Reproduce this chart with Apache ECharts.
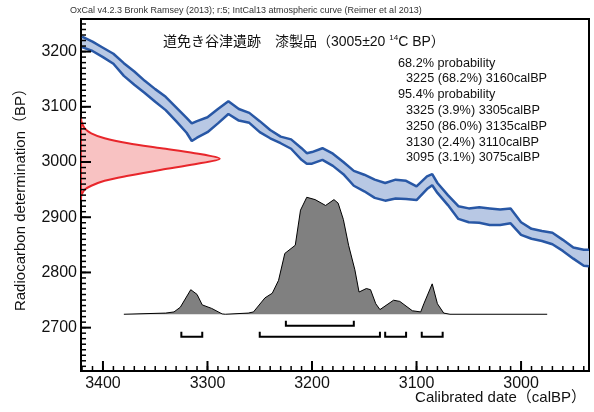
<!DOCTYPE html>
<html><head><meta charset="utf-8">
<script src="https://cdn.jsdelivr.net/npm/echarts@6.0.0/dist/echarts.min.js"></script>
<style>html,body{margin:0;padding:0;background:#fff}#c{width:594px;height:412px}</style>
</head><body><div id="c"></div>
<script>
// Calibration curve (IntCal13) band edges
const calBP = [3420,3410,3400,3390,3380,3370,3360,3350,3340,3330,3320,3315,3310,3300,3290,3280,3270,3260,3250,3240,3230,3220,3210,3205,3200,3190,3180,3170,3160,3150,3140,3130,3120,3110,3100,3090,3085,3080,3070,3060,3050,3040,3030,3020,3010,3000,2990,2980,2970,2960,2950,2940,2935];
const curveUpper = [3227,3218,3207,3196,3179,3164,3147,3132,3118,3099,3080,3070,3074,3081,3096,3110,3096,3089,3074,3058,3046,3041,3025,3016,3018,3025,3015,3000,2984,2977,2968,2962,2968,2966,2956,2974,2978,2962,2940,2920,2916,2918,2916,2914,2916,2891,2879,2875,2872,2859,2845,2841,2841];
const curveLower = [3208,3201,3190,3178,3156,3140,3125,3109,3094,3074,3053,3038,3044,3054,3070,3087,3075,3071,3054,3043,3034,3024,3004,2997,2997,3004,2993,2978,2957,2947,2935,2930,2934,2933,2931,2951,2958,2944,2922,2897,2891,2890,2886,2886,2889,2868,2861,2857,2851,2839,2825,2812,2811];
// Measured radiocarbon date 3005±20 BP (relative density)
const sampleBP = [3080,3073,3061,3052,3043,3034,3025,3016,3006,2996,2986,2975,2966,2957,2950,2940,2933];
const sampleDensity = [0,0.003,0.027,0.074,0.17,0.34,0.58,0.82,1.0,0.82,0.58,0.34,0.17,0.074,0.027,0.003,0];
// Calibrated probability distribution (relative)
const postYear = [3380,3340,3332,3326,3316,3310,3305,3296,3286,3283,3261,3256,3245,3238,3232,3226,3216,3211,3205,3197,3187,3179,3175,3170,3165,3159,3155,3148,3144,3139,3135,3122,3116,3104,3096,3093,3085,3080,3074,3068,2975];
const postProb = [0,0.01,0.02,0.06,0.21,0.17,0.08,0.05,0.003,0,0.01,0.02,0.14,0.18,0.29,0.52,0.59,0.89,1.0,0.98,0.93,0.98,0.95,0.81,0.59,0.38,0.19,0.22,0.21,0.09,0.04,0.12,0.11,0.03,0.02,0.09,0.26,0.09,0.01,0,0];
// Ranges
const range68 = [[3225,3160]];
const range95 = [[3325,3305],[3250,3135],[3130,3110],[3095,3075]];
// Tick labels / tick values
const xTickLabels = [3000,3100,3200,3300,3400];
const yTickLabels = [2700,2800,2900,3000,3100,3200];
const xMinorTicks = []; for (let v = 2940; v <= 3420; v += 10) xMinorTicks.push(v);
const yMinorTicks = []; for (let v = 2630; v <= 3250; v += 10) yMinorTicks.push(v);
// Texts
const headerText = 'OxCal v4.2.3 Bronk Ramsey (2013); r:5; IntCal13 atmospheric curve (Reimer et al 2013)';
const titleMain = '道免き谷津遺跡　漆製品（3005±20 ';
const titleSup = '14';
const titleEnd = 'C BP）';
const probHead68 = '68.2% probability';
const probText68 = ['3225 (68.2%) 3160calBP'];
const probHead95 = '95.4% probability';
const probText95 = ['3325 (3.9%) 3305calBP','3250 (86.0%) 3135calBP','3130 (2.4%) 3110calBP','3095 (3.1%) 3075calBP'];
const xTitle = 'Calibrated date（calBP）';
const yTitle = 'Radiocarbon determination（BP）';

const X_MIN = 2935, X_MAX = 3421, Y_MIN = 2621.5, Y_MAX = 3259;
const D_MIN = -0.485, D_MAX = 2.524;
const GRID = {left:81, top:19, right:5, bottom:41};
const FF = "'Liberation Sans','Noto Sans CJK JP',Arial,sans-serif";
const chart = echarts.init(document.getElementById('c'), null, {renderer:'canvas'});

const probLines = [];
let ly = 63;
const LH = 15.8;
probLines.push({t: probHead68, x: 398, y: ly}); ly += LH;
probText68.forEach(s => { probLines.push({t: s, x: 406, y: ly}); ly += LH; });
probLines.push({t: probHead95, x: 398, y: ly}); ly += LH;
probText95.forEach(s => { probLines.push({t: s, x: 406, y: ly}); ly += LH; });

const graphics = [
  {type:'text', x:70, y:11, style:{text:headerText, fontSize:9, fontFamily:FF, fill:'#333', align:'left', verticalAlign:'middle'}},
  {type:'text', x:163, y:42, style:{text: titleMain + '{s|' + titleSup + '}' + titleEnd, fontSize:14, fontFamily:FF, fill:'#111', align:'left', verticalAlign:'middle',
     rich:{s:{fontSize:8, fontFamily:FF, fill:'#111', verticalAlign:'top', lineHeight:16}}}},
  {type:'text', x:586, y:398, style:{text:xTitle, fontSize:15, fontFamily:FF, fill:'#111', align:'right', verticalAlign:'middle'}},
  {type:'text', x:21, y:196, rotation:Math.PI/2, style:{text:yTitle, fontSize:15, fontFamily:FF, fill:'#111', align:'center', verticalAlign:'middle'}}
].concat(probLines.map(p => ({type:'text', x:p.x, y:p.y, style:{text:p.t, fontSize:12.7, fontFamily:FF, fill:'#111', align:'left', verticalAlign:'middle'}})));

// all tick marks as one custom series: rows [value, kind]; kind 0 x-major, 1 x-minor, 2 y-major, 3 y-minor
const tickRows = xTickLabels.map(v=>[v, 0]).concat(xMinorTicks.map(v=>[v, 1]))
  .concat(yTickLabels.map(v=>[v, 2])).concat(yMinorTicks.map(v=>[v, 3]));

const fmt = v => String(Math.round(v));
const option = {
  animation:false,
  backgroundColor:'#fff',
  grid:{left:GRID.left, top:GRID.top, right:GRID.right, bottom:GRID.bottom, show:true, borderColor:'#000', borderWidth:2},
  xAxis:[
    {type:'value', inverse:true, min:X_MIN, max:X_MAX, position:'bottom',
     axisLine:{show:true, onZero:false, lineStyle:{color:'#000', width:2}},
     axisTick:{show:false},
     axisLabel:{show:true, customValues:xTickLabels, formatter:fmt, color:'#111', fontSize:16, fontFamily:FF, margin:5},
     splitLine:{show:false}},
    {type:'value', min:0, max:3.663, show:false, axisLine:{onZero:false}, splitLine:{show:false}}
  ],
  yAxis:[
    {type:'value', min:Y_MIN, max:Y_MAX, position:'left',
     axisLine:{show:true, onZero:false, lineStyle:{color:'#000', width:2}},
     axisTick:{show:false},
     axisLabel:{show:true, customValues:yTickLabels, formatter:fmt, color:'#111', fontSize:16, fontFamily:FF, margin:4},
     splitLine:{show:false}},
    {type:'value', min:D_MIN, max:D_MAX, show:false, axisLine:{onZero:false}, splitLine:{show:false}}
  ],
  graphic: graphics,
  series:[
    {type:'custom', xAxisIndex:0, yAxisIndex:0, data:[[3200,3000]], clip:true, silent:true, z:2,
     renderItem:function(params, api){
       const pts = calBP.map((x,i)=>api.coord([x, curveUpper[i]]));
       for (let i = calBP.length-1; i >= 0; i--) pts.push(api.coord([calBP[i], curveLower[i]]));
       return {type:'polygon', shape:{points:pts}, style:{fill:'#b8c8e4', stroke:null}};
     }},
    {type:'line', xAxisIndex:0, yAxisIndex:0, data:calBP.map((x,i)=>[x, curveUpper[i]]), symbol:'none', z:3, silent:true,
     lineStyle:{color:'#2857a5', width:2.5}},
    {type:'line', xAxisIndex:0, yAxisIndex:0, data:calBP.map((x,i)=>[x, curveLower[i]]), symbol:'none', z:3, silent:true,
     lineStyle:{color:'#2857a5', width:2.5}},
    {type:'custom', xAxisIndex:1, yAxisIndex:0, data:[[1,3000]], clip:true, silent:true, z:3,
     renderItem:function(params, api){
       const pts = sampleBP.map((b,i)=>api.coord([sampleDensity[i], b]));
       return {type:'polygon', shape:{points:pts, smooth:0.3}, style:{fill:'#f8c2c2', stroke:'#e8262b', lineWidth:2}};
     }},
    {type:'line', xAxisIndex:0, yAxisIndex:1, data:postYear.map((x,i)=>[x, postProb[i]]), symbol:'none', z:3, silent:true,
     lineStyle:{color:'#000', width:1}, areaStyle:{color:'#808080', opacity:1}},
    {type:'custom', xAxisIndex:0, yAxisIndex:1, silent:true, z:4,
     data: range68.map(r=>[r[0], r[1], 0]).concat(range95.map(r=>[r[0], r[1], 1])),
     encode:{x:[0,1], y:2},
     renderItem:function(params, api){
       const a = api.coord([api.value(0), 0]);
       const b = api.coord([api.value(1), 0]);
       const kind = api.value(2);
       const hy = a[1] + (kind ? 22.5 : 11.5);
       const ty = a[1] + (kind ? 17.5 : 6.5);
       return {type:'polyline', shape:{points:[[a[0],ty],[a[0],hy],[b[0],hy],[b[0],ty]]}, style:{stroke:'#000', lineWidth:2, fill:null}};
     }},
    {type:'custom', xAxisIndex:0, yAxisIndex:0, silent:true, z:10, zlevel:1, clip:false,
     data: tickRows,
     encode:{x:0, y:1},
     renderItem:function(params, api){
       const v = api.value(0), kind = api.value(1);
       const major = (kind === 0 || kind === 2);
       const len = major ? 10 : 5;
       const cs = params.coordSys;
       let x1, y1, x2, y2;
       if (kind < 2) {
         const p = api.coord([v, Y_MAX]);
         x1 = p[0]; x2 = p[0]; y1 = cs.y + cs.height; y2 = y1 - len;
       } else {
         const p = api.coord([X_MAX, v]);
         y1 = p[1]; y2 = p[1]; x1 = cs.x; x2 = x1 + len;
       }
       return {type:'rect', shape:{x: Math.min(x1,x2) - (kind < 2 ? (major?1:0.75) : 0), y: Math.min(y1,y2) - (kind >= 2 ? (major?1:0.75) : 0),
               width: kind < 2 ? (major?2:1.5) : len, height: kind < 2 ? len : (major?2:1.5)},
               style:{fill:'#000'}};
     }}
  ]
};
chart.setOption(option);
</script></body></html>
